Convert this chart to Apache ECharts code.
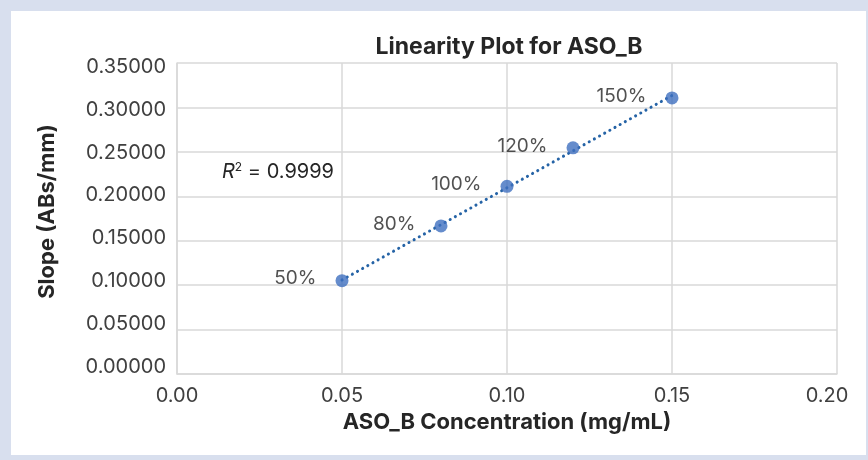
<!DOCTYPE html>
<html>
<head>
<meta charset="utf-8">
<script src="https://cdn.jsdelivr.net/npm/echarts@6/dist/echarts.min.js"></script>
<style>
  html, body { margin: 0; padding: 0; background: #d8dfee; }
  #chart { position: absolute; left: 11px; top: 11px; width: 855px; height: 444px; background: #fff; }
</style>
</head>
<body>
<div id="chart"></div>
<script>
// 浓度 (mg/mL) 与斜率数据
var concentrations = [0.05, 0.08, 0.10, 0.12, 0.15];
var slopes = [0.1050, 0.1667, 0.2112, 0.2545, 0.3107];
var levelLabels = ['50%', '80%', '100%', '120%', '150%'];
var xTicks = [0.00, 0.05, 0.10, 0.15, 0.20];
var yTicks = [0.00, 0.05, 0.10, 0.15, 0.20, 0.25, 0.30, 0.35];
var rSquared = '0.9999';

var chart = echarts.init(document.getElementById('chart'));
var font = 'Inter, "Open Sans", sans-serif';

// 线性趋势线（最小二乘）
function linearFit(xs, ys) {
  var n = xs.length, sx = 0, sy = 0, sxx = 0, sxy = 0;
  for (var i = 0; i < n; i++) {
    sx += xs[i]; sy += ys[i]; sxx += xs[i] * xs[i]; sxy += xs[i] * ys[i];
  }
  var k = (n * sxy - sx * sy) / (n * sxx - sx * sx);
  var b = (sy - k * sx) / n;
  return { k: k, b: b };
}
var fit = linearFit(concentrations, slopes);
var xMin = Math.min.apply(null, concentrations);
var xMax = Math.max.apply(null, concentrations);
var trend = [[xMin, fit.k * xMin + fit.b], [xMax, fit.k * xMax + fit.b]];

// y 轴标签与网格线略有错位（Excel 风格），按刻度逐个微调
var yRich = {};
yTicks.forEach(function (v, i) {
  var shift = -7 + (v / 0.35) * 10.7; // 正数向下
  yRich['t' + i] = {
    fontFamily: font, fontSize: 20, color: '#404040',
    padding: shift >= 0 ? [shift * 2, 0, 0, 0] : [0, 0, -shift * 2, 0]
  };
});

var gridLine = { show: true, lineStyle: { color: '#d9d9d9', width: 1.5 } };

var option = {
  animation: false,
  title: {
    text: 'Linearity Plot for ASO_B',
    left: 493, top: 20,
    textAlign: 'center',
    textStyle: { fontFamily: font, fontSize: 23, fontWeight: 'bold', color: '#262626' }
  },
  grid: { left: 166, top: 52, right: 29, bottom: 81 },
  xAxis: {
    type: 'value',
    min: xTicks[0], max: xTicks[xTicks.length - 1], interval: 0.05,
    name: 'ASO_B Concentration (mg/mL)',
    nameLocation: 'middle', nameGap: 33,
    nameTextStyle: { fontFamily: font, fontSize: 22, fontWeight: 'bold', color: '#262626' },
    axisLine: { show: true, lineStyle: { color: '#d9d9d9', width: 1.5 } },
    axisTick: { show: false },
    axisLabel: {
      margin: 12, fontFamily: font, fontSize: 20, color: '#404040',
      formatter: function (v) {
        var s = v.toFixed(2);
        return v === xTicks[xTicks.length - 1] ? '{last|' + s + '}' : s;
      },
      rich: { last: { fontFamily: font, fontSize: 20, color: '#404040', padding: [0, 20, 0, 0] } }
    },
    splitLine: gridLine
  },
  yAxis: {
    type: 'value',
    min: yTicks[0], max: yTicks[yTicks.length - 1], interval: 0.05,
    name: 'Slope (ABs/mm)',
    nameLocation: 'middle', nameGap: 119,
    nameTextStyle: { fontFamily: font, fontSize: 22, fontWeight: 'bold', color: '#262626', padding: [0, 0, 0, 14] },
    axisLine: { show: true, lineStyle: { color: '#d9d9d9', width: 1.5 } },
    axisTick: { show: false },
    axisLabel: {
      margin: 11, fontFamily: font, fontSize: 20, color: '#404040',
      formatter: function (v) {
        var i = Math.round(v / 0.05);
        return '{t' + i + '|' + v.toFixed(5) + '}';
      },
      rich: yRich
    },
    splitLine: gridLine
  },
  graphic: [{
    type: 'text',
    x: 211, y: 161,
    style: {
      text: '{r|R}{s|2} = ' + rSquared,
      verticalAlign: 'middle',
      fontFamily: font, fontSize: 20, fill: '#262626',
      rich: {
        r: { fontFamily: font, fontSize: 20, fontStyle: 'italic', fill: '#262626' },
        s: { fontFamily: font, fontSize: 12, fill: '#262626', verticalAlign: 'top', padding: [0, 0, 10, 0] }
      }
    }
  }],
  series: [
    {
      name: 'Trend',
      type: 'line',
      data: trend,
      symbol: 'none',
      silent: true,
      lineStyle: { color: '#2563a6', width: 3, type: [0.1, 5.8], cap: 'round' },
      z: 2
    },
    {
      name: 'Slope',
      type: 'scatter',
      data: concentrations.map(function (x, i) { return [x, slopes[i]]; }),
      symbolSize: 13,
      itemStyle: { color: '#3f6fbf' },
      label: {
        show: true, position: 'left', distance: 19, offset: [0, -2],
        fontFamily: font, fontSize: 19, color: '#262626',
        formatter: function (p) { return levelLabels[p.dataIndex]; }
      },
      z: 3
    }
  ]
};

chart.setOption(option);
</script>
</body>
</html>
